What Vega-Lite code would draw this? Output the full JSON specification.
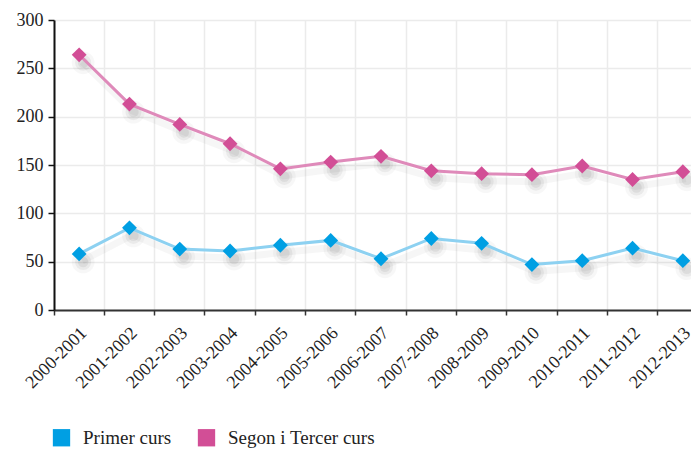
{
  "$schema": "https://vega.github.io/schema/vega-lite/v6.json",
  "width": 637,
  "height": 290,
  "autosize": {"type": "none"},
  "padding": {"left": 54, "top": 20, "right": 0, "bottom": 139},
  "background": "white",
  "config": {
    "view": {"stroke": null},
    "font": "Liberation Serif",
    "axis": {"labelFont": "Liberation Serif", "labelColor": "#222", "gridColor": "#EBEBEB", "gridWidth": 1.5}
  },
  "data": {
    "values": [
      {"year": "2000-2001", "series": "Primer curs", "value": 58},
      {"year": "2001-2002", "series": "Primer curs", "value": 85},
      {"year": "2002-2003", "series": "Primer curs", "value": 63},
      {"year": "2003-2004", "series": "Primer curs", "value": 61},
      {"year": "2004-2005", "series": "Primer curs", "value": 67},
      {"year": "2005-2006", "series": "Primer curs", "value": 72},
      {"year": "2006-2007", "series": "Primer curs", "value": 53},
      {"year": "2007-2008", "series": "Primer curs", "value": 74},
      {"year": "2008-2009", "series": "Primer curs", "value": 69},
      {"year": "2009-2010", "series": "Primer curs", "value": 47},
      {"year": "2010-2011", "series": "Primer curs", "value": 51},
      {"year": "2011-2012", "series": "Primer curs", "value": 64},
      {"year": "2012-2013", "series": "Primer curs", "value": 51},
      {"year": "2000-2001", "series": "Segon i Tercer curs", "value": 264},
      {"year": "2001-2002", "series": "Segon i Tercer curs", "value": 213},
      {"year": "2002-2003", "series": "Segon i Tercer curs", "value": 192},
      {"year": "2003-2004", "series": "Segon i Tercer curs", "value": 172},
      {"year": "2004-2005", "series": "Segon i Tercer curs", "value": 146},
      {"year": "2005-2006", "series": "Segon i Tercer curs", "value": 153},
      {"year": "2006-2007", "series": "Segon i Tercer curs", "value": 159},
      {"year": "2007-2008", "series": "Segon i Tercer curs", "value": 144},
      {"year": "2008-2009", "series": "Segon i Tercer curs", "value": 141},
      {"year": "2009-2010", "series": "Segon i Tercer curs", "value": 140},
      {"year": "2010-2011", "series": "Segon i Tercer curs", "value": 149},
      {"year": "2011-2012", "series": "Segon i Tercer curs", "value": 135},
      {"year": "2012-2013", "series": "Segon i Tercer curs", "value": 143}
    ]
  },
  "encoding": {
    "x": {
      "field": "year", "type": "nominal", "sort": null,
      "scale": {"type": "band", "range": [0, 654], "paddingInner": 0, "paddingOuter": 0},
      "axis": {
        "title": null, "bandPosition": 0, "labelAngle": -45, "labelOffset": 5,
        "labelFontSize": 18, "labelPadding": 15, "tickSize": 5, "tickColor": "#333", "tickWidth": 1.5,
        "domainColor": "#333", "domainWidth": 2, "grid": true, "labelAlign": "right", "labelBaseline": "middle"
      }
    },
    "y": {
      "field": "value", "type": "quantitative",
      "scale": {"domain": [0, 300], "nice": false},
      "axis": {
        "title": null, "values": [0, 50, 100, 150, 200, 250, 300], "labelFontSize": 18,
        "tickSize": 6, "tickColor": "#111", "tickWidth": 1.5, "domainColor": "#111", "domainWidth": 2,
        "labelPadding": 5, "grid": true
      }
    }
  },
  "layer": [
    {
      "mark": {"type": "line", "strokeWidth": 7, "xOffset": 3, "yOffset": 7, "opacity": 0.035, "color": "#000"},
      "encoding": {"detail": {"field": "series"}}
    },
    {
      "mark": {"type": "point", "shape": "circle", "filled": true, "size": 520, "xOffset": 4, "yOffset": 8, "opacity": 0.03, "color": "#000"},
      "encoding": {}
    },
    {
      "mark": {"type": "point", "shape": "circle", "filled": true, "size": 260, "xOffset": 4, "yOffset": 8, "opacity": 0.05, "color": "#000"},
      "encoding": {}
    },
    {
      "mark": {"type": "point", "shape": "circle", "filled": true, "size": 110, "xOffset": 4, "yOffset": 8, "opacity": 0.06, "color": "#000"},
      "encoding": {}
    },
    {
      "mark": {"type": "line", "strokeWidth": 3},
      "encoding": {
        "color": {
          "field": "series", "type": "nominal",
          "scale": {"domain": ["Primer curs", "Segon i Tercer curs"], "range": ["#8DD1F1", "#DF8ABA"]},
          "legend": null
        }
      }
    },
    {
      "mark": {"type": "point", "shape": "diamond", "filled": true, "size": 220, "opacity": 1},
      "encoding": {
        "color": {
          "field": "series", "type": "nominal",
          "scale": {"domain": ["Primer curs", "Segon i Tercer curs"], "range": ["#009FE3", "#D24E96"]},
          "legend": {
            "title": null, "orient": "none", "direction": "horizontal", "legendX": -2, "legendY": 408,
            "padding": 0, "symbolType": "square", "symbolSize": 300, "symbolStrokeWidth": 0, "symbolOpacity": 1,
            "labelFont": "Liberation Serif", "labelFontSize": 19, "labelColor": "#222",
            "columnPadding": 25, "labelOffset": 12
          }
        }
      }
    }
  ],
  "resolve": {"scale": {"color": "independent"}, "legend": {"color": "independent"}}
}
